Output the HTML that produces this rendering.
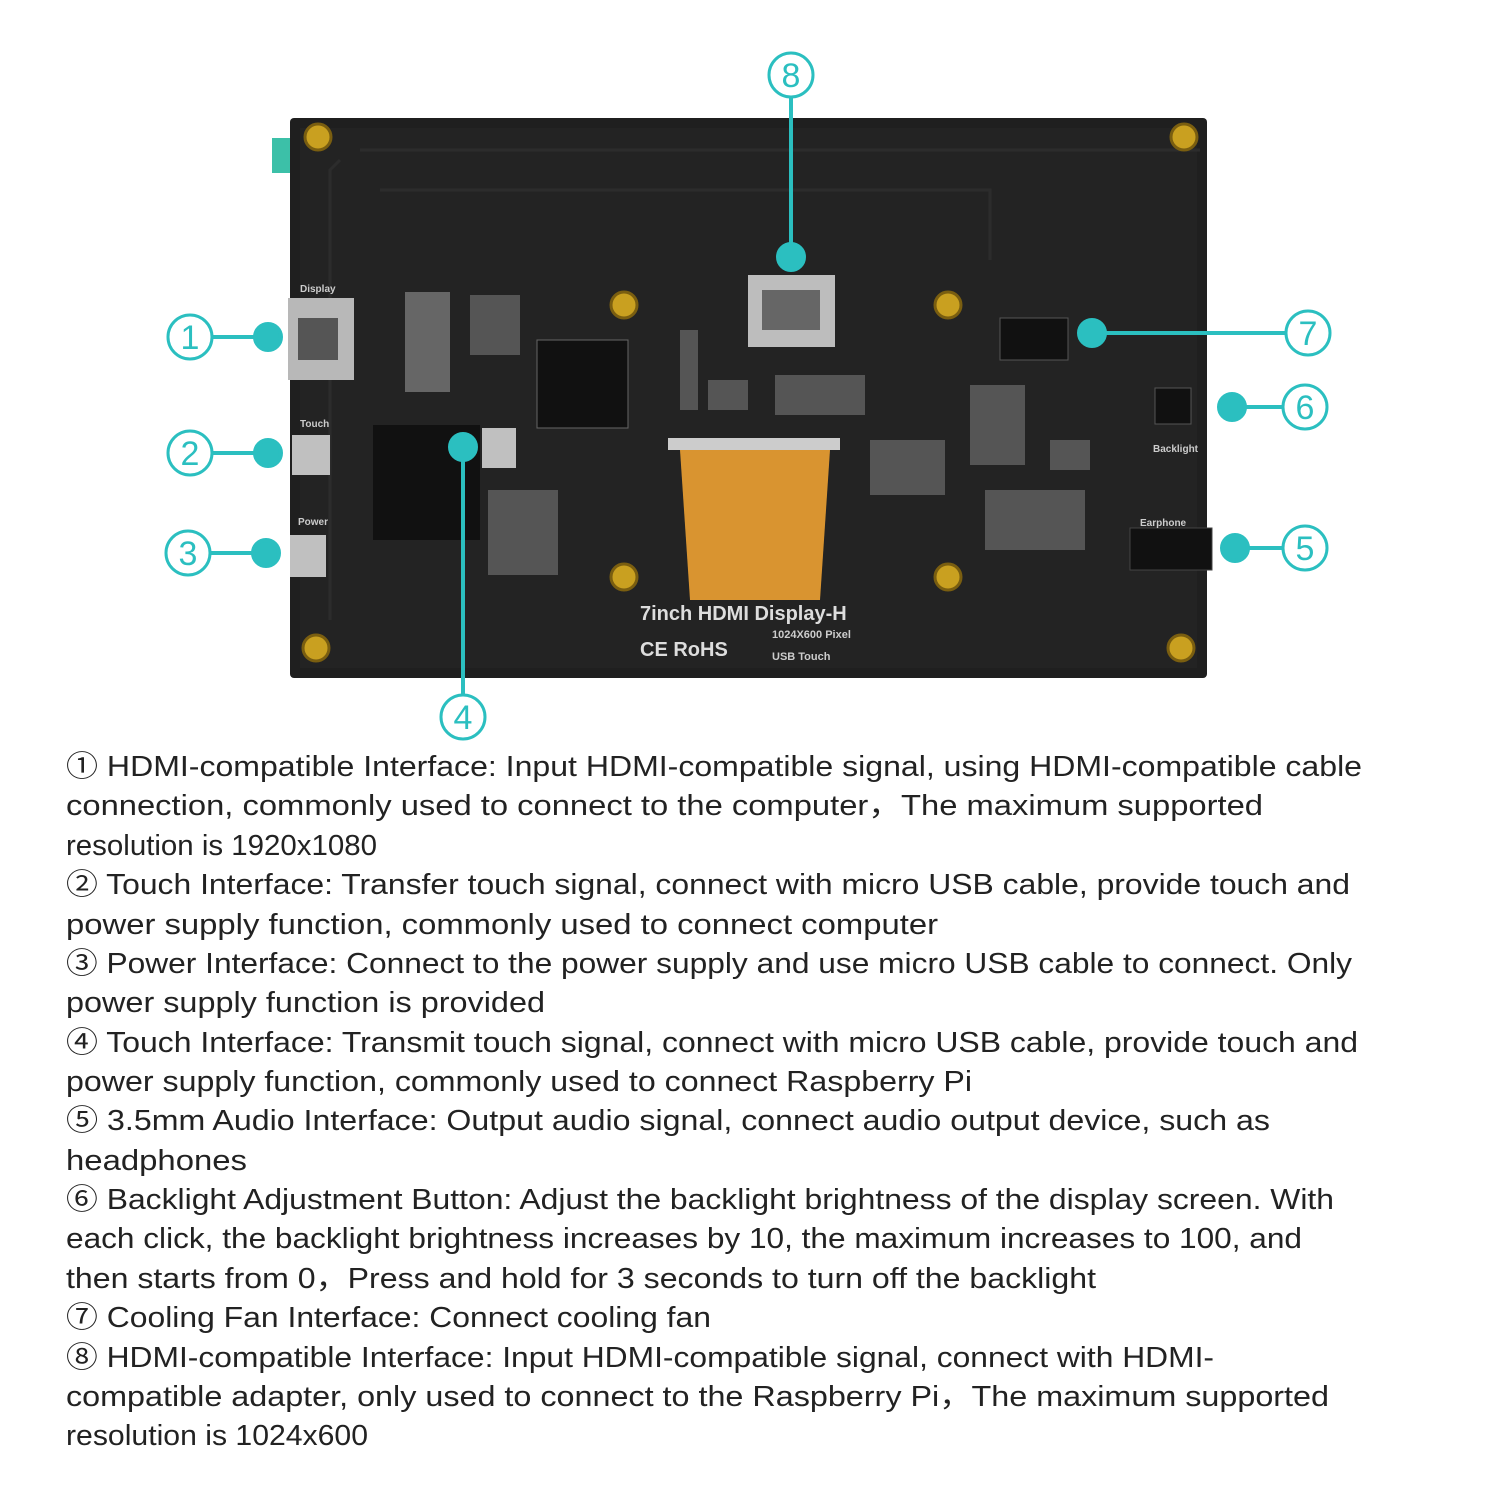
<!DOCTYPE html>
<html><head><meta charset="utf-8"><style>
html,body{margin:0;padding:0;background:#fff;width:1500px;height:1500px;overflow:hidden}
svg{display:block}
.t{font-family:"Liberation Sans","Noto Sans CJK SC",sans-serif;font-size:29px;fill:#222}
.n{font-family:"Liberation Sans",sans-serif;font-size:34px;fill:#2bbfc0;text-anchor:middle}
</style></head><body>
<svg width="1500" height="1500" viewBox="0 0 1500 1500" xmlns="http://www.w3.org/2000/svg">
<!-- board -->
<rect x="272" y="138" width="22" height="35" fill="#3cc0a8"/>
<rect x="290" y="118" width="917" height="560" rx="4" fill="#1f1f1f"/>
<rect x="300" y="128" width="897" height="540" fill="#232323"/>
<path d="M340 160 L330 170 L330 620 M360 150 L1200 150 M380 190 L990 190 L990 260" stroke="#2c2c2c" stroke-width="3" fill="none"/>
<!-- screws -->
<g fill="#c9a020" stroke="#7a5e10" stroke-width="3">
<circle cx="318" cy="137" r="13"/><circle cx="1184" cy="137" r="13"/>
<circle cx="316" cy="648" r="13"/><circle cx="1181" cy="648" r="13"/>
<circle cx="624" cy="305" r="13"/><circle cx="948" cy="305" r="13"/>
<circle cx="624" cy="577" r="13"/><circle cx="948" cy="577" r="13"/>
</g>
<!-- connectors -->
<rect x="288" y="298" width="66" height="82" fill="#b8b8b8"/><rect x="298" y="318" width="40" height="42" fill="#555"/>
<rect x="748" y="275" width="87" height="72" fill="#bdbdbd"/><rect x="762" y="290" width="58" height="40" fill="#666"/>
<rect x="292" y="435" width="38" height="40" fill="#c0c0c0"/><rect x="290" y="535" width="36" height="42" fill="#c0c0c0"/>
<rect x="482" y="428" width="34" height="40" fill="#c0c0c0"/>
<rect x="1000" y="318" width="68" height="42" fill="#111" stroke="#555"/>
<rect x="1130" y="528" width="82" height="42" fill="#111" stroke="#444"/>
<rect x="1155" y="388" width="36" height="36" fill="#111" stroke="#555"/>
<rect x="373" y="425" width="107" height="115" fill="#111"/>
<rect x="537" y="340" width="91" height="88" fill="#111" stroke="#666"/>
<rect x="405" y="292" width="45" height="100" fill="#666"/>
<rect x="668" y="438" width="172" height="12" fill="#ccc"/>
<path d="M680 450 L830 450 L820 600 L690 600 Z" fill="#d99430"/>
<g fill="#555"><rect x="470" y="295" width="50" height="60"/><rect x="680" y="330" width="18" height="80"/><rect x="708" y="380" width="40" height="30"/><rect x="775" y="375" width="90" height="40"/><rect x="970" y="385" width="55" height="80"/><rect x="870" y="440" width="75" height="55"/><rect x="985" y="490" width="100" height="60"/><rect x="1050" y="440" width="40" height="30"/><rect x="488" y="490" width="70" height="85"/></g>
<text x="640" y="620" font-family="Liberation Sans,sans-serif" font-size="20" font-weight="bold" fill="#ddd">7inch HDMI Display-H</text>
<text x="640" y="656" font-family="Liberation Sans,sans-serif" font-size="20" font-weight="bold" fill="#ddd">CE RoHS</text>
<text x="772" y="638" font-family="Liberation Sans,sans-serif" font-size="11" font-weight="bold" fill="#ccc">1024X600 Pixel</text>
<text x="772" y="660" font-family="Liberation Sans,sans-serif" font-size="11" font-weight="bold" fill="#ccc">USB Touch</text>
<g font-family="Liberation Sans,sans-serif" font-size="10" font-weight="bold" fill="#ccc">
<text x="300" y="292">Display</text><text x="300" y="427">Touch</text><text x="298" y="525">Power</text><text x="1153" y="452">Backlight</text><text x="1140" y="526">Earphone</text></g>
<!-- callouts -->
<g stroke="#2bbfc0" stroke-width="4" fill="#2bbfc0">
<line x1="212" y1="337" x2="268" y2="337"/><circle cx="268" cy="337" r="13"/>
<line x1="212" y1="453" x2="268" y2="453"/><circle cx="268" cy="453" r="13"/>
<line x1="210" y1="553" x2="266" y2="553"/><circle cx="266" cy="553" r="13"/>
<line x1="463" y1="447" x2="463" y2="695"/><circle cx="463" cy="447" r="13"/>
<line x1="791" y1="97" x2="791" y2="257"/><circle cx="791" cy="257" r="13"/>
<line x1="1092" y1="333" x2="1286" y2="333"/><circle cx="1092" cy="333" r="13"/>
<line x1="1232" y1="407" x2="1283" y2="407"/><circle cx="1232" cy="407" r="13"/>
<line x1="1235" y1="548" x2="1283" y2="548"/><circle cx="1235" cy="548" r="13"/>
</g>
<g fill="#fff" stroke="#2bbfc0" stroke-width="3">
<circle cx="190" cy="337" r="22"/><circle cx="190" cy="453" r="22"/><circle cx="188" cy="553" r="22"/><circle cx="463" cy="717" r="22"/><circle cx="791" cy="75" r="22"/><circle cx="1308" cy="333" r="22"/><circle cx="1305" cy="407" r="22"/><circle cx="1305" cy="548" r="22"/></g>
<g class="n"><text x="190" y="349">1</text><text x="190" y="465">2</text><text x="188" y="565">3</text><text x="463" y="729">4</text><text x="791" y="87">8</text><text x="1308" y="345">7</text><text x="1305" y="419">6</text><text x="1305" y="560">5</text></g>
<!-- text -->
<g class="t" lengthAdjust="spacingAndGlyphs">
<text x="66" y="776" textLength="1296" lengthAdjust="spacingAndGlyphs">① HDMI-compatible Interface: Input HDMI-compatible signal, using HDMI-compatible cable</text>
<text x="66" y="815" textLength="1197" lengthAdjust="spacingAndGlyphs">connection, commonly used to connect to the computer，The maximum supported</text>
<text x="66" y="855" textLength="311" lengthAdjust="spacingAndGlyphs">resolution is 1920x1080</text>
<text x="66" y="894" textLength="1284" lengthAdjust="spacingAndGlyphs">② Touch Interface: Transfer touch signal, connect with micro USB cable, provide touch and</text>
<text x="66" y="934" textLength="872" lengthAdjust="spacingAndGlyphs">power supply function, commonly used to connect computer</text>
<text x="66" y="973" textLength="1286" lengthAdjust="spacingAndGlyphs">③ Power Interface: Connect to the power supply and use micro USB cable to connect. Only</text>
<text x="66" y="1012" textLength="479" lengthAdjust="spacingAndGlyphs">power supply function is provided</text>
<text x="66" y="1052" textLength="1292" lengthAdjust="spacingAndGlyphs">④ Touch Interface: Transmit touch signal, connect with micro USB cable, provide touch and</text>
<text x="66" y="1091" textLength="906" lengthAdjust="spacingAndGlyphs">power supply function, commonly used to connect Raspberry Pi</text>
<text x="66" y="1130" textLength="1204" lengthAdjust="spacingAndGlyphs">⑤ 3.5mm Audio Interface: Output audio signal, connect audio output device, such as</text>
<text x="66" y="1170" textLength="181" lengthAdjust="spacingAndGlyphs">headphones</text>
<text x="66" y="1209" textLength="1268" lengthAdjust="spacingAndGlyphs">⑥ Backlight Adjustment Button: Adjust the backlight brightness of the display screen. With</text>
<text x="66" y="1248" textLength="1236" lengthAdjust="spacingAndGlyphs">each click, the backlight brightness increases by 10, the maximum increases to 100, and</text>
<text x="66" y="1288" textLength="1030" lengthAdjust="spacingAndGlyphs">then starts from 0，Press and hold for 3 seconds to turn off the backlight</text>
<text x="66" y="1327" textLength="645" lengthAdjust="spacingAndGlyphs">⑦ Cooling Fan Interface: Connect cooling fan</text>
<text x="66" y="1367" textLength="1148" lengthAdjust="spacingAndGlyphs">⑧ HDMI-compatible Interface: Input HDMI-compatible signal, connect with HDMI-</text>
<text x="66" y="1406" textLength="1263" lengthAdjust="spacingAndGlyphs">compatible adapter, only used to connect to the Raspberry Pi，The maximum supported</text>
<text x="66" y="1445" textLength="302" lengthAdjust="spacingAndGlyphs">resolution is 1024x600</text>
</g>
</svg>
</body></html>
